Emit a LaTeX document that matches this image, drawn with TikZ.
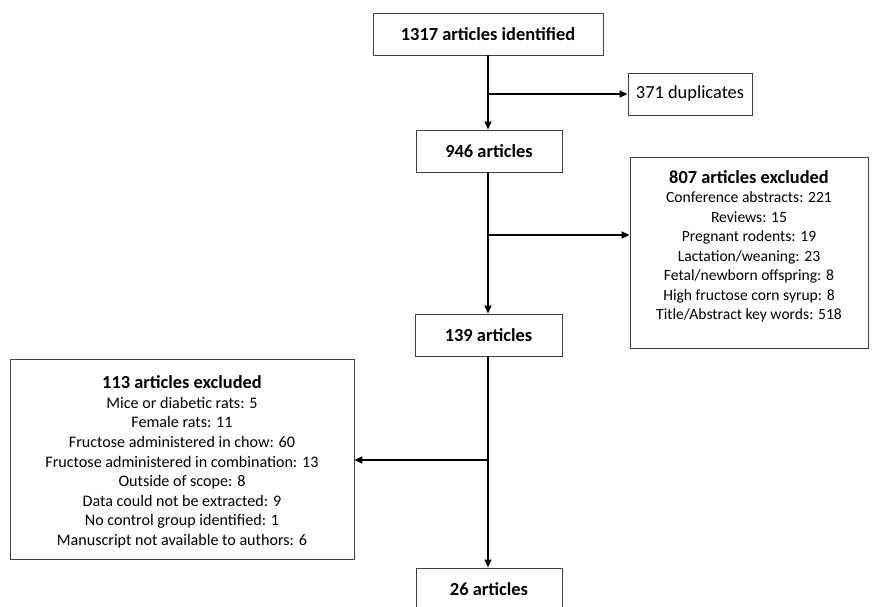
\documentclass[tikz,border=0pt]{standalone}
\usepackage{fontspec}
\setmainfont{Carlito}
\usetikzlibrary{arrows.meta}
\begin{document}
\begin{tikzpicture}[x=1pt,y=-1pt,
  box/.style={draw=black!75, line width=0.9pt, inner sep=0pt, align=center,
    font=\fontsize{18.4}{19.7}\selectfont},
  hd/.style={box, font=\fontsize{18.4}{19.7}\selectfont\bfseries},
  listtext/.style={inner sep=0pt, align=center},
  flow/.style={line width=1.5pt, -{Triangle[length=8pt,width=7pt]}}]
\clip (0,0) rectangle (877,606);
\useasboundingbox (0,0) rectangle (877,606);
\node[hd, minimum width=230pt, minimum height=42pt] (b1) at (488,34) {1317 articles identified};
\node[box, minimum width=124pt, minimum height=42pt] (dup) at (690,94) {371 duplicates};
\node[hd, minimum width=146pt, minimum height=42pt] (b2) at (489,151) {946 articles};
\node[box, minimum width=238pt, minimum height=191pt] (ex1) at (749,252.5) {};
\node[listtext, font=\fontsize{15.6}{19.5}\selectfont] (t1) at (749,246.5) {{\fontsize{18.4}{21}\selectfont\bfseries 807 articles excluded}\\Conference abstracts: 221\\Reviews: 15\\Pregnant rodents: 19\\Lactation/weaning: 23\\Fetal/newborn offspring: 8\\High fructose corn syrup: 8\\Title/Abstract key words: 518};
\node[hd, minimum width=147pt, minimum height=42pt] (b3) at (488.5,335) {139 articles};
\node[box, minimum width=344pt, minimum height=200pt] (ex2) at (182,459) {};
\node[listtext, font=\fontsize{16.1}{19.6}\selectfont] (t2) at (182,462) {{\fontsize{18.4}{20}\selectfont\bfseries 113 articles excluded}\\Mice or diabetic rats: 5\\Female rats: 11\\Fructose administered in chow: 60\\Fructose administered in combination: 13\\Outside of scope: 8\\Data could not be extracted: 9\\No control group identified: 1\\Manuscript not available to authors: 6};
\node[hd, minimum width=146pt, minimum height=42pt] (b4) at (489,589) {26 articles};
\coordinate (j1) at (488,94);
\coordinate (j2) at (488,235);
\coordinate (j3) at (488,460);
\draw[flow] (b1.south -| j1) -- (b2.north -| j1);
\draw[flow] (j1) -- (dup.west);
\draw[flow] (b2.south -| j2) -- (b3.north -| j2);
\draw[flow] (j2) -- (ex1.west |- j2);
\draw[flow] (b3.south -| j3) -- (b4.north -| j3);
\draw[flow] (j3) -- (ex2.east |- j3);
\end{tikzpicture}
\end{document}
